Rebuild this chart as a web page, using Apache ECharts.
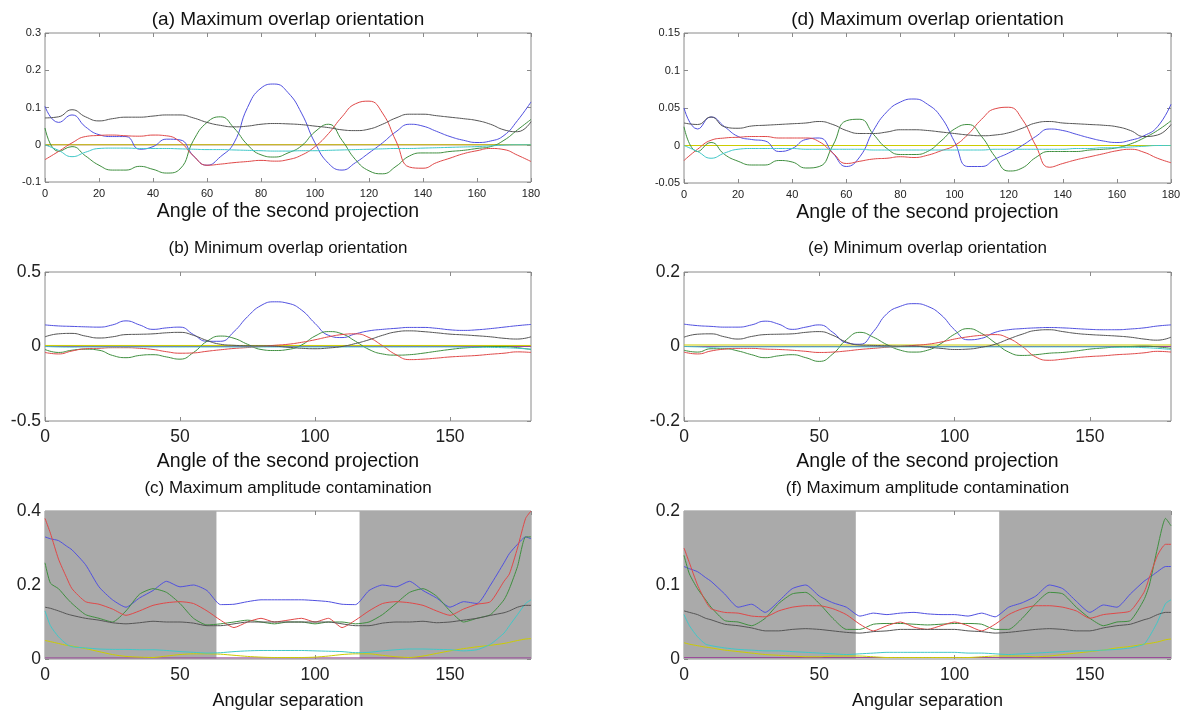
<!DOCTYPE html>
<html>
<head>
<meta charset="utf-8">
<script src="https://cdn.jsdelivr.net/npm/echarts@6/dist/echarts.min.js"></script>
<style>
html,body{margin:0;padding:0;background:#fff;}
#chart{width:1188px;height:714px;}
</style>
</head>
<body>
<div id="chart"></div>
<script>
// ---------- DATA ----------
const angles = [0,5,10,15,20,25,30,35,40,45,50,55,60,65,70,75,80,85,90,95,100,105,110,115,120,125,130,135,140,145,150,155,160,165,170,175,180];
const sepAngles = [0,2,5,8,10,15,20,25,30,35,40,45,50,55,60,65,70,75,80,85,90,95,100,105,110,115,120,125,130,135,140,145,150,155,160,165,170,172,175,178,180];
const flatX = [0,180];
const shadeBands = [[0,63.5],[116.5,180]];

const titles = ['(a) Maximum overlap orientation','(b) Minimum overlap orientation','(c) Maximum amplitude contamination',
                '(d) Maximum overlap orientation','(e) Minimum overlap orientation','(f) Maximum amplitude contamination'];
const xNames = ['Angle of the second projection','Angle of the second projection','Angular separation'];

// (a)
const aBlue  = [0.103,0.06,0.08,0.048,0.027,0.022,0.022,-0.012,-0.005,0.015,0.013,-0.03,-0.055,-0.032,0.005,0.1,0.152,0.163,0.14,0.085,0.005,-0.05,-0.068,-0.048,-0.022,0.005,0.035,0.055,0.05,0.036,0.022,0.012,0.006,0.01,0.025,0.065,0.115];
const aGray  = [0.072,0.075,0.094,0.075,0.064,0.07,0.074,0.074,0.077,0.08,0.08,0.072,0.06,0.052,0.048,0.05,0.055,0.057,0.056,0.054,0.05,0.046,0.04,0.038,0.042,0.055,0.072,0.082,0.082,0.078,0.074,0.07,0.065,0.055,0.04,0.035,0.062];
const aRed   = [-0.04,-0.018,0.005,0.022,0.025,0.026,0.024,0.023,0.026,0.024,0.008,-0.03,-0.055,-0.052,-0.048,-0.045,-0.042,-0.044,-0.04,-0.028,-0.005,0.03,0.075,0.11,0.117,0.085,0.01,-0.06,-0.063,-0.048,-0.036,-0.024,-0.016,-0.01,-0.013,-0.028,-0.045];
const aGreen = [0.045,-0.018,-0.005,-0.03,-0.055,-0.068,-0.068,-0.058,-0.066,-0.076,-0.065,0.012,0.06,0.075,0.045,0.0,-0.027,-0.033,-0.022,-0.003,0.035,0.055,0.012,-0.04,-0.07,-0.078,-0.058,-0.03,-0.022,-0.022,-0.018,-0.015,-0.01,-0.005,0.012,0.04,0.068];
const aCyan  = [0,-0.015,-0.032,-0.02,-0.01,-0.009,-0.009,-0.01,-0.01,-0.01,-0.011,-0.012,-0.013,-0.013,-0.014,-0.015,-0.016,-0.017,-0.017,-0.016,-0.016,-0.015,-0.014,-0.013,-0.012,-0.011,-0.01,-0.01,-0.009,-0.008,-0.007,-0.006,-0.005,-0.003,-0.001,0,0];
const aYellow = [0,0];
const aMagenta = [0,0];

// (b)
const bBlue  = [0.145,0.138,0.135,0.132,0.13,0.145,0.172,0.145,0.115,0.125,0.13,0.08,0.035,0.035,0.1,0.2,0.275,0.3,0.29,0.245,0.155,0.075,0.06,0.085,0.105,0.115,0.122,0.128,0.128,0.122,0.112,0.108,0.112,0.12,0.13,0.14,0.148];
const bGray  = [0.065,0.085,0.088,0.07,0.057,0.065,0.08,0.082,0.085,0.092,0.095,0.075,0.04,0.015,0.008,0.005,0.004,0.002,-0.005,-0.012,-0.015,-0.01,0.0,0.02,0.045,0.075,0.098,0.105,0.1,0.092,0.083,0.078,0.072,0.065,0.055,0.05,0.065];
const bRed   = [-0.04,-0.05,-0.03,-0.015,-0.012,-0.008,-0.008,-0.012,-0.02,-0.035,-0.045,-0.043,-0.032,-0.022,-0.013,-0.007,0.0,0.008,0.015,0.028,0.045,0.065,0.08,0.085,0.06,0.005,-0.055,-0.088,-0.085,-0.078,-0.07,-0.065,-0.06,-0.052,-0.045,-0.036,-0.04];
const bGreen = [-0.02,-0.04,-0.025,-0.018,-0.025,-0.06,-0.075,-0.06,-0.055,-0.07,-0.085,-0.04,0.035,0.07,0.055,0.015,-0.02,-0.027,-0.02,0.01,0.07,0.1,0.085,0.035,-0.02,-0.05,-0.058,-0.055,-0.045,-0.032,-0.02,-0.01,-0.005,0.0,0.0,-0.008,-0.02];
const bCyan  = [0,-0.003,-0.004,-0.003,-0.003,-0.003,-0.003,-0.003,-0.003,-0.003,-0.003,-0.003,-0.003,-0.003,-0.003,-0.003,-0.003,-0.003,-0.003,-0.003,-0.003,-0.003,-0.003,-0.003,-0.003,-0.003,-0.003,-0.003,-0.003,-0.003,-0.003,-0.004,-0.005,-0.006,-0.008,-0.012,-0.018];
const bYellow = [0.007,0.007];
const bMagenta = [0,0];

// (c)
const cBlue  = [0.33,0.325,0.32,0.305,0.295,0.255,0.195,0.16,0.14,0.165,0.185,0.21,0.195,0.2,0.185,0.147,0.148,0.155,0.16,0.16,0.16,0.16,0.158,0.155,0.148,0.147,0.185,0.2,0.195,0.21,0.185,0.165,0.14,0.155,0.15,0.2,0.26,0.285,0.31,0.33,0.325];
const cRed   = [0.38,0.34,0.27,0.22,0.19,0.155,0.148,0.135,0.118,0.13,0.145,0.152,0.155,0.15,0.13,0.105,0.085,0.1,0.11,0.1,0.105,0.11,0.1,0.11,0.085,0.105,0.13,0.15,0.155,0.152,0.145,0.13,0.118,0.135,0.148,0.155,0.21,0.23,0.3,0.38,0.4];
const cGreen = [0.26,0.205,0.19,0.165,0.15,0.12,0.11,0.1,0.13,0.175,0.19,0.18,0.15,0.11,0.092,0.095,0.1,0.105,0.1,0.095,0.1,0.1,0.095,0.1,0.1,0.095,0.1,0.12,0.15,0.18,0.19,0.17,0.13,0.1,0.11,0.12,0.16,0.19,0.25,0.33,0.33];
const cGray  = [0.14,0.137,0.13,0.122,0.118,0.11,0.105,0.098,0.095,0.098,0.102,0.1,0.1,0.097,0.09,0.09,0.095,0.1,0.1,0.1,0.1,0.1,0.1,0.1,0.095,0.09,0.09,0.097,0.1,0.1,0.102,0.098,0.1,0.105,0.11,0.118,0.125,0.13,0.14,0.145,0.145];
const cCyan  = [0.13,0.09,0.06,0.04,0.033,0.03,0.027,0.026,0.026,0.025,0.025,0.023,0.02,0.018,0.016,0.017,0.02,0.022,0.023,0.023,0.023,0.023,0.022,0.021,0.02,0.017,0.018,0.022,0.025,0.027,0.027,0.026,0.025,0.022,0.025,0.04,0.07,0.09,0.12,0.15,0.16];
const cYellow = [0.05,0.047,0.042,0.037,0.035,0.028,0.02,0.012,0.007,0.005,0.004,0.008,0.012,0.014,0.014,0.013,0.01,0.007,0.005,0.004,0.004,0.004,0.005,0.008,0.012,0.014,0.014,0.01,0.006,0.004,0.008,0.015,0.022,0.028,0.033,0.037,0.042,0.045,0.05,0.054,0.055];
const cMagenta = [0.003,0.003];

// (d)
const dBlue  = [0.05,0.022,0.038,0.025,0.012,0.008,0.006,-0.008,-0.004,0.008,0.01,-0.01,-0.028,-0.015,0.02,0.045,0.058,0.062,0.055,0.038,0.005,-0.028,-0.028,-0.018,-0.01,0.0,0.012,0.022,0.02,0.015,0.01,0.006,0.004,0.007,0.013,0.025,0.055];
const dGray  = [0.03,0.028,0.038,0.025,0.023,0.026,0.027,0.028,0.029,0.03,0.032,0.028,0.02,0.016,0.016,0.018,0.021,0.021,0.02,0.018,0.016,0.014,0.013,0.014,0.017,0.023,0.03,0.032,0.03,0.029,0.028,0.027,0.025,0.02,0.012,0.014,0.028];
const dRed   = [-0.02,-0.005,0.007,0.01,0.011,0.012,0.012,0.01,0.01,0.01,0.005,-0.01,-0.024,-0.021,-0.018,-0.017,-0.015,-0.016,-0.013,-0.007,0.0,0.015,0.035,0.049,0.051,0.035,0.0,-0.029,-0.024,-0.019,-0.015,-0.011,-0.007,-0.005,-0.009,-0.017,-0.023];
const dGreen = [0.025,-0.008,0.004,-0.012,-0.021,-0.026,-0.026,-0.02,-0.022,-0.03,-0.028,0.0,0.033,0.035,0.015,-0.004,-0.012,-0.012,-0.008,0.006,0.022,0.028,0.012,-0.015,-0.034,-0.03,-0.016,-0.008,-0.008,-0.008,-0.006,-0.005,-0.003,0.002,0.01,0.02,0.033];
const dCyan  = [0,-0.008,-0.017,-0.01,-0.005,-0.004,-0.004,-0.004,-0.004,-0.005,-0.005,-0.005,-0.005,-0.005,-0.006,-0.006,-0.006,-0.006,-0.006,-0.006,-0.006,-0.006,-0.006,-0.005,-0.005,-0.005,-0.005,-0.005,-0.005,-0.004,-0.004,-0.003,-0.003,-0.002,-0.001,0,0];
const dYellow = [0,0];
const dMagenta = [0,0];

// (e)
const eBlue  = [0.06,0.056,0.054,0.052,0.052,0.058,0.068,0.06,0.046,0.052,0.058,0.038,0.01,0.006,0.04,0.088,0.108,0.115,0.108,0.085,0.045,0.018,0.022,0.038,0.045,0.048,0.05,0.051,0.05,0.048,0.046,0.045,0.045,0.047,0.05,0.055,0.058];
const eGray  = [0.025,0.033,0.034,0.026,0.02,0.027,0.032,0.033,0.034,0.038,0.04,0.03,0.012,0.004,0.003,0.002,0.001,0.001,-0.002,-0.005,-0.008,-0.007,-0.002,0.006,0.02,0.033,0.043,0.045,0.04,0.035,0.032,0.03,0.028,0.025,0.02,0.017,0.025];
const eRed   = [-0.015,-0.02,-0.012,-0.007,-0.005,-0.005,-0.007,-0.008,-0.01,-0.013,-0.016,-0.015,-0.012,-0.008,-0.005,-0.002,0.0,0.003,0.006,0.012,0.02,0.026,0.03,0.032,0.022,0.0,-0.028,-0.037,-0.034,-0.03,-0.027,-0.025,-0.022,-0.02,-0.017,-0.013,-0.015];
const eGreen = [-0.01,-0.015,-0.006,-0.006,-0.012,-0.022,-0.03,-0.025,-0.022,-0.03,-0.04,-0.02,0.018,0.038,0.025,0.005,-0.01,-0.015,-0.01,0.008,0.033,0.048,0.035,0.01,-0.015,-0.024,-0.022,-0.018,-0.016,-0.012,-0.007,-0.004,-0.001,0.0,0.001,-0.001,-0.005];
const eCyan  = [0,-0.001,-0.002,-0.001,-0.001,-0.001,-0.001,-0.001,-0.001,-0.001,-0.001,-0.001,-0.001,-0.001,-0.001,-0.001,-0.001,-0.001,-0.001,-0.001,-0.001,-0.001,-0.001,-0.001,-0.001,-0.001,-0.001,-0.001,-0.001,-0.001,-0.001,-0.001,-0.002,-0.002,-0.003,-0.005,-0.008];
const eYellow = [0.004,0.004];
const eMagenta = [0,0];

// (f)
const fBlue  = [0.125,0.122,0.118,0.11,0.105,0.088,0.07,0.074,0.063,0.078,0.095,0.1,0.085,0.076,0.07,0.058,0.062,0.06,0.062,0.063,0.061,0.06,0.06,0.058,0.062,0.057,0.07,0.076,0.085,0.1,0.095,0.078,0.063,0.073,0.07,0.088,0.105,0.11,0.118,0.125,0.125];
const fRed   = [0.15,0.13,0.1,0.078,0.068,0.063,0.062,0.058,0.057,0.065,0.07,0.072,0.072,0.068,0.06,0.047,0.038,0.045,0.05,0.043,0.04,0.045,0.05,0.045,0.038,0.047,0.06,0.068,0.072,0.072,0.07,0.065,0.055,0.06,0.062,0.065,0.09,0.11,0.14,0.155,0.155];
const fGreen = [0.14,0.115,0.095,0.08,0.07,0.052,0.05,0.045,0.055,0.075,0.088,0.09,0.075,0.055,0.04,0.04,0.047,0.048,0.048,0.047,0.046,0.047,0.048,0.048,0.047,0.04,0.04,0.055,0.075,0.09,0.088,0.07,0.055,0.045,0.05,0.052,0.08,0.1,0.15,0.19,0.18];
const fGray  = [0.065,0.063,0.06,0.055,0.053,0.047,0.045,0.042,0.038,0.038,0.04,0.041,0.04,0.038,0.036,0.035,0.037,0.038,0.04,0.04,0.04,0.04,0.04,0.038,0.037,0.035,0.036,0.038,0.04,0.041,0.04,0.038,0.038,0.042,0.045,0.047,0.053,0.055,0.06,0.063,0.063];
const fCyan  = [0.06,0.045,0.03,0.02,0.018,0.015,0.013,0.012,0.011,0.011,0.01,0.009,0.008,0.007,0.006,0.007,0.008,0.009,0.009,0.009,0.009,0.009,0.009,0.008,0.008,0.007,0.006,0.007,0.008,0.009,0.01,0.011,0.011,0.012,0.013,0.015,0.02,0.03,0.05,0.075,0.08];
const fYellow = [0.022,0.02,0.018,0.016,0.015,0.012,0.01,0.008,0.006,0.005,0.004,0.003,0.003,0.004,0.004,0.004,0.003,0.002,0.002,0.002,0.002,0.002,0.002,0.002,0.003,0.004,0.004,0.004,0.003,0.004,0.006,0.008,0.01,0.012,0.015,0.017,0.02,0.021,0.023,0.026,0.027];
const fMagenta = [0.002,0.002];

// y-axis ranges and tick steps per panel (a..f)
const yMin = [-0.1,-0.5,0,-0.05,-0.2,0];
const yMax = [0.3,0.5,0.4,0.15,0.2,0.2];
const yStep = [0.1,0.5,0.2,0.05,0.2,0.1];
const xStep = [20,50,50,20,50,50];

// ---------- STYLE ----------
const COL = {blue:'#5050e0', green:'#3f8f3f', red:'#e04848', cyan:'#40c8c8', magenta:'#9a4a9a', yellow:'#cccc00', gray:'#555555'};
const FONT = '"Liberation Sans", Arial, sans-serif';

const grids = [
  {left:45, right:657, top:33, height:149},
  {left:45, right:657, top:272, height:149},
  {left:45, right:657, top:511, height:148},
  {left:684, right:17, top:33, height:150},
  {left:684, right:17, top:272, height:149},
  {left:684, right:17, top:511, height:148}
];
const titleY = [20, 248, 488];
const xLabelMargin = [6, 7, 7];
const xNameGap = [20, 31, 33];
const tickFont = [11, 17.5, 17.5];
const titleFont = [19, 17, 17];
const nameFont = [19.5, 19.5, 18];

const xAxes = [], yAxes = [], series = [], graphics = [];
grids.forEach((g, i) => {
  g.show = true; g.borderColor = '#8a8a8a'; g.borderWidth = 1; g.backgroundColor = '#fff';
  const row = i % 3;
  const tick = {show:true, inside:true, length:4, lineStyle:{color:'#8a8a8a'}};
  const noLine = {show:false, onZero:false};
  xAxes.push({type:'value', gridIndex:i, min:0, max:180, interval:xStep[i], position:'bottom',
    axisLine:noLine, axisTick:tick, splitLine:{show:false},
    axisLabel:{color:'#222', fontSize:tickFont[row], fontFamily:FONT, margin:xLabelMargin[row], showMaxLabel: xStep[i] === 20},
    name:xNames[row], nameLocation:'middle', nameGap:xNameGap[row],
    nameTextStyle:{color:'#111', fontSize:nameFont[row], fontFamily:FONT}});
  xAxes.push({type:'value', gridIndex:i, min:0, max:180, interval:xStep[i], position:'top',
    axisLine:noLine, axisTick:tick, axisLabel:{show:false}, splitLine:{show:false}});
  yAxes.push({type:'value', gridIndex:i, min:yMin[i], max:yMax[i], interval:yStep[i], position:'left',
    axisLine:noLine, axisTick:tick, splitLine:{show:false},
    axisLabel:{color:'#222', fontSize:tickFont[row], fontFamily:FONT, margin:4}});
  yAxes.push({type:'value', gridIndex:i, min:yMin[i], max:yMax[i], interval:yStep[i], position:'right',
    axisLine:noLine, axisTick:tick, axisLabel:{show:false}, splitLine:{show:false}});
  const cx = g.left + (1188 - g.right - g.left) / 2;
  graphics.push({type:'text', x:cx, y:titleY[row], style:{text:titles[i], font:titleFont[row] + 'px ' + FONT,
    fill:'#111', textAlign:'center', textVerticalAlign:'middle', align:'center', verticalAlign:'middle'}});
});

function addLine(gi, xs, ys, color, smooth) {
  series.push({type:'line', xAxisIndex:gi*2, yAxisIndex:gi*2, z:3,
    data: xs.map((x, k) => [x, ys[k]]), showSymbol:false, symbol:'none', smooth:smooth,
    lineStyle:{color:color, width:1}, silent:true, animation:false});
}
function addShade(gi) {
  series.push({type:'line', xAxisIndex:gi*2, yAxisIndex:gi*2, z:1, data:[], silent:true, animation:false,
    markArea:{silent:true, itemStyle:{color:'#aaaaaa', opacity:1},
      data: shadeBands.map(b => [{xAxis:b[0]}, {xAxis:b[1]}])}});
}

const panels = [
  {gi:0, xs:angles, sm:0.5, d:[aBlue,aGreen,aRed,aCyan,aGray], flat:[aMagenta,aYellow]},
  {gi:1, xs:angles, sm:0.5, d:[bBlue,bGreen,bRed,bCyan,bGray], flat:[bMagenta,bYellow]},
  {gi:2, xs:sepAngles, sm:0.2, d:[cBlue,cGreen,cRed,cCyan,cGray], flat:[cMagenta], yel:cYellow},
  {gi:3, xs:angles, sm:0.5, d:[dBlue,dGreen,dRed,dCyan,dGray], flat:[dMagenta,dYellow]},
  {gi:4, xs:angles, sm:0.5, d:[eBlue,eGreen,eRed,eCyan,eGray], flat:[eMagenta,eYellow]},
  {gi:5, xs:sepAngles, sm:0.2, d:[fBlue,fGreen,fRed,fCyan,fGray], flat:[fMagenta], yel:fYellow}
];
const cols = [COL.blue, COL.green, COL.red, COL.cyan, COL.gray];
panels.forEach(p => {
  if (p.gi === 2 || p.gi === 5) addShade(p.gi);
  addLine(p.gi, flatX, p.flat[0], COL.magenta, false);
  if (p.flat[1]) addLine(p.gi, flatX, p.flat[1], COL.yellow, false);
  if (p.yel) addLine(p.gi, p.xs, p.yel, COL.yellow, p.sm);
  p.d.forEach((arr, k) => addLine(p.gi, p.xs, arr, cols[k], p.sm));
});

const chart = echarts.init(document.getElementById('chart'), null, {renderer:'canvas'});
chart.setOption({
  backgroundColor:'#fff', animation:false,
  grid:grids, xAxis:xAxes, yAxis:yAxes, series:series, graphic:graphics
});
</script>
</body>
</html>
